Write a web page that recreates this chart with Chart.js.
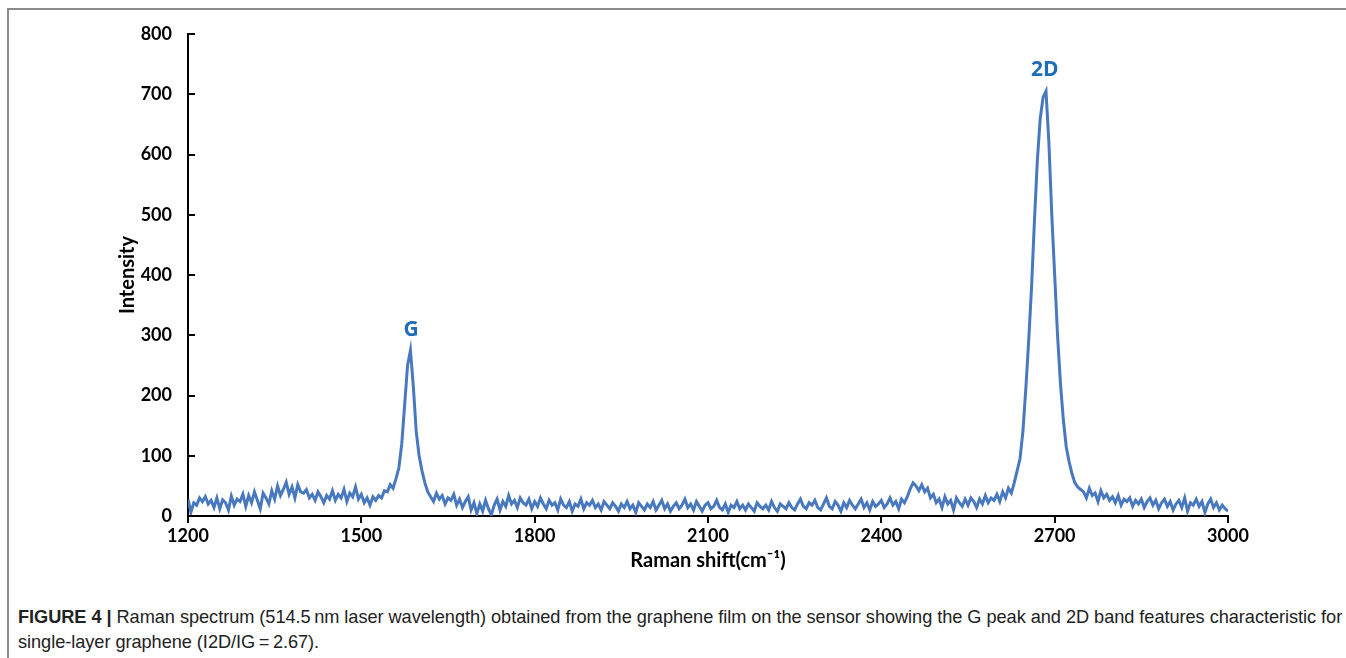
<!DOCTYPE html>
<html>
<head>
<meta charset="utf-8">
<script src="https://cdn.jsdelivr.net/npm/chart.js@4.4.1/dist/chart.umd.min.js"></script>
<style>
  html, body { margin: 0; padding: 0; background: #fff; }
  body { width: 1346px; height: 658px; position: relative; overflow: hidden; }
  #frame { position: absolute; left: 7px; top: 8px; width: 1400px; height: 700px;
           border-top: 2px solid #8a8a8a; border-left: 2px solid #8a8a8a; }
  #wrap { position: absolute; left: 0; top: 0; width: 1346px; height: 580px; }
  #caption { position: absolute; left: 18px; top: 605px; width: 1327px;
             font-family: "Liberation Sans Narrow", "Arial Narrow", "Liberation Sans", sans-serif;
             font-size: 18.2px; line-height: 25px; color: #222; letter-spacing: -0.05px; }
  #caption b { font-weight: bold; }
</style>
</head>
<body>
<div id="frame"></div>
<div id="wrap"><canvas id="myChart" width="1346" height="580"></canvas></div>
<div id="caption"><b>FIGURE 4 |</b> Raman spectrum (514.5&#8201;nm laser wavelength) obtained from the graphene film on the sensor showing the G peak and 2D band features characteristic for single-layer graphene (I2D/IG&#8201;=&#8201;2.67).</div>
<script>
// Raman shift, 1200..3000 cm-1 every 5
var shiftStart = 1200;
var shiftStep = 5;
var intensity = [
  28, 6, 22, 18, 30, 24, 32, 20, 26, 14,        // 1200
  30, 12, 27, 22, 10, 33, 18, 28, 24, 36,       // 1250
  16, 34, 22, 40, 26, 12, 38, 30, 20, 42,       // 1300
  28, 50, 34, 44, 56, 36, 48, 30, 52, 40,       // 1350
  38, 44, 30, 36, 26, 40, 32, 22, 34, 28,       // 1400
  42, 26, 36, 30, 44, 24, 38, 32, 48, 28,       // 1450
  36, 22, 30, 18, 32, 26, 34, 30, 42, 40,       // 1500
  52, 46, 62, 80, 120, 185, 250, 275, 215, 140, // 1550
  100, 75, 55, 40, 32, 24, 38, 28, 34, 20,      // 1600
  30, 26, 36, 18, 28, 14, 24, 32, 10, 22,       // 1650
  4, 20, 8, 26, 12, 2, 18, 28, 10, 24,          // 1700
  16, 34, 20, 26, 14, 30, 22, 18, 28, 12,       // 1750
  24, 16, 30, 20, 12, 26, 18, 22, 10, 28,       // 1800
  18, 14, 24, 8, 20, 16, 28, 12, 22, 18,        // 1850
  26, 14, 20, 10, 24, 18, 12, 22, 16, 8,        // 1900
  20, 14, 24, 12, 18, 6, 22, 16, 10, 20,        // 1950
  14, 24, 10, 18, 26, 12, 20, 8, 16, 22,        // 2000
  12, 18, 28, 14, 20, 10, 24, 16, 8, 18,        // 2050
  22, 12, 16, 26, 14, 10, 20, 6, 18, 14,        // 2100
  24, 12, 18, 10, 20, 14, 8, 22, 16, 12,        // 2150
  18, 10, 24, 14, 8, 20, 16, 12, 22, 14,        // 2200
  10, 20, 28, 16, 12, 22, 18, 26, 14, 10,       // 2250
  20, 30, 16, 12, 24, 18, 8, 22, 14, 26,        // 2300
  18, 12, 20, 28, 14, 22, 10, 24, 16, 20,       // 2350
  26, 14, 20, 30, 18, 24, 12, 28, 22, 32,       // 2400
  45, 55, 50, 42, 52, 40, 46, 30, 36, 22,       // 2450
  28, 14, 32, 20, 26, 10, 30, 22, 16, 28,       // 2500
  18, 30, 24, 14, 28, 20, 34, 22, 30, 26,       // 2550
  36, 24, 40, 30, 46, 38, 55, 75, 95, 140,      // 2600
  210, 290, 380, 490, 590, 660, 695, 705, 620, 500, // 2650
  400, 300, 220, 160, 115, 90, 70, 55, 48, 44,  // 2700
  40, 30, 46, 34, 38, 24, 42, 30, 36, 26,       // 2750
  32, 22, 34, 18, 28, 24, 30, 16, 26, 20,       // 2800
  28, 14, 24, 30, 18, 26, 12, 22, 28, 16,       // 2850
  24, 10, 20, 26, 14, 30, 8, 22, 18, 28,        // 2900
  16, 24, 6, 20, 28, 14, 22, 10, 18, 12,        // 2950
  8                                             // 3000
];

var peakNames = ['G', '2D'];
var peakShift = [1586, 2683];
var peakTextAt = [309, 740];

var points = [];
for (var i = 0; i < intensity.length; i++) {
  points.push({ x: shiftStart + i * shiftStep, y: intensity[i] });
}

var tickFont = { family: 'Lato, "Open Sans", sans-serif', size: 18, weight: 'bold' };
var titleFont = { family: 'Lato, "Open Sans", sans-serif', size: 20, weight: 'bold' };

// y ticks point into the plot, like the original
var innerTicks = {
  id: 'innerTicks',
  afterDraw: function (chart) {
    var c = chart.ctx, ys = chart.scales.y, left = chart.chartArea.left;
    c.save();
    c.strokeStyle = '#000';
    c.lineWidth = 2;
    ys.ticks.forEach(function (t) {
      var py = Math.round(ys.getPixelForValue(t.value));
      c.beginPath();
      c.moveTo(left, py);
      c.lineTo(left + 7, py);
      c.stroke();
    });
    c.restore();
  }
};

var peakText = {
  id: 'peakText',
  afterDatasetsDraw: function (chart) {
    var c = chart.ctx, xs = chart.scales.x, ys = chart.scales.y;
    c.save();
    c.fillStyle = '#1f6db5';
    c.font = 'bold 21px "Open Sans", Lato, sans-serif';
    c.textAlign = 'center';
    c.textBaseline = 'middle';
    for (var i = 0; i < peakNames.length; i++) {
      c.fillText(peakNames[i], xs.getPixelForValue(peakShift[i]), ys.getPixelForValue(peakTextAt[i]));
    }
    c.restore();
  }
};

var ctx = document.getElementById('myChart');
var myChart = new Chart(ctx, {
  type: 'line',
  data: {
    datasets: [{
      data: points,
      borderColor: '#4878be',
      borderWidth: 3,
      pointRadius: 0,
      tension: 0,
      fill: false
    }]
  },
  options: {
    responsive: false,
    animation: false,
    events: [],
    layout: { padding: { left: 104, right: 118, top: 34, bottom: 2 } },
    plugins: { legend: { display: false }, tooltip: { enabled: false } },
    scales: {
      x: {
        type: 'linear',
        min: 1200,
        max: 3000,
        afterFit: function (s) { s.height = 62; },
        ticks: {
          stepSize: 300, color: '#000', font: tickFont, padding: 2, maxRotation: 0,
          callback: function (v) { return String(v); }
        },
        grid: { drawOnChartArea: false, tickLength: 7, color: '#000', lineWidth: 2 },
        border: { display: true, color: '#000', width: 2 },
        title: {
          display: true,
          text: 'Raman shift(cm\u207B\u00B9)',
          color: '#000',
          font: titleFont,
          padding: { top: 0, bottom: 5 }
        }
      },
      y: {
        min: 0,
        max: 800,
        afterFit: function (s) { s.width = 84; },
        ticks: {
          stepSize: 100, color: '#000', font: tickFont, padding: 16,
          callback: function (v) { return String(v); }
        },
        grid: { drawOnChartArea: false, drawTicks: false },
        border: { display: true, color: '#000', width: 2 },
        title: {
          display: true,
          text: 'Intensity',
          color: '#000',
          font: titleFont,
          padding: { top: 12, bottom: 0 }
        }
      }
    }
  },
  plugins: [innerTicks, peakText]
});
</script>
</body>
</html>
